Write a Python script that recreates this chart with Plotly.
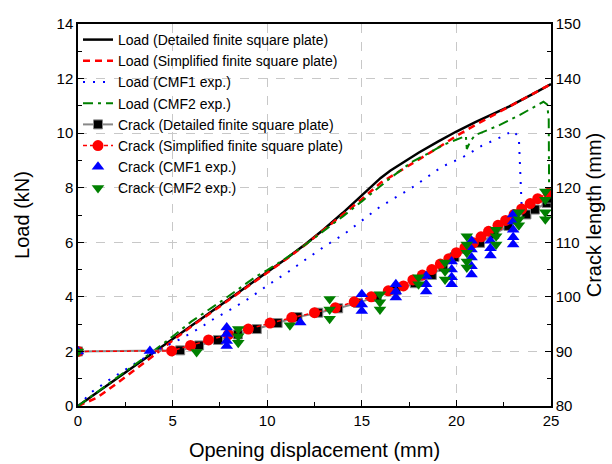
import plotly.graph_objects as go

# ---- Load curves (left axis, kN) ----
det_x = [0, 2, 4, 5, 6, 7.5, 9, 10, 11, 12, 13, 14, 15, 16, 16.5, 17, 17.7, 18, 19, 20, 21, 22, 22.8, 24, 25]
det_y = [0, 0.98, 1.96, 2.45, 2.94, 3.68, 4.41, 4.9, 5.4, 5.92, 6.48, 7.08, 7.72, 8.36, 8.62, 8.85, 9.15, 9.28, 9.68, 10.06, 10.4, 10.72, 10.98, 11.42, 11.8]

sim_x = [0, 1, 2, 3, 4, 5, 6, 7.5, 9, 10, 11, 12, 13, 14, 15, 16, 17, 18, 19, 20, 21, 22, 23, 24, 25]
sim_y = [0, 0.3, 0.8, 1.32, 1.85, 2.4, 2.92, 3.65, 4.38, 4.88, 5.38, 5.9, 6.45, 7.0, 7.58, 8.18, 8.62, 9.03, 9.45, 9.9, 10.3, 10.68, 11.05, 11.42, 11.8]

cmf1_x = [0, 0.7, 1.7, 3.0, 4.3, 5.4, 6.5, 7.0, 8.1, 9.1, 10.1, 11.1, 12.1, 13.1, 14.05, 15.06, 15.96, 17.65, 19.24, 20.3, 21.35, 22.4, 23.0, 23.3, 23.4, 23.45]
cmf1_y = [0, 0.5, 0.98, 1.55, 2.08, 2.45, 2.88, 3.12, 3.55, 3.97, 4.46, 4.91, 5.4, 5.88, 6.29, 6.83, 7.3, 8.0, 8.77, 9.1, 9.54, 9.87, 10.09, 9.85, 8.2, 7.3]

cmf2_x = [0, 2, 4, 5, 6, 7.6, 9.44, 10, 11, 12, 13, 14, 15, 15.96, 16.5, 17.65, 18.5, 19.3, 20.35, 20.5, 20.55, 20.75, 21.0, 21.4, 22.3, 23.36, 24.26, 24.6, 24.8, 24.88, 24.9]
cmf2_y = [0, 1.0, 2.02, 2.55, 3.1, 3.85, 4.76, 4.98, 5.42, 5.9, 6.42, 6.95, 7.5, 8.04, 8.35, 8.95, 9.25, 9.57, 9.87, 9.9, 9.42, 9.72, 9.93, 10.05, 10.3, 10.67, 11.04, 11.15, 11.05, 10.5, 7.9]

# ---- Crack length (right axis, mm) ----
cdet_x = [0, 5.4, 6.4, 7.4, 8.45, 9.45, 10.55, 11.6, 12.7, 13.75, 14.8, 15.8, 16.8, 17.8, 18.7, 19.3, 19.9, 20.5, 21.25, 22.0, 22.75, 23.7, 24.15, 24.77, 25.0]
cdet_y = [90, 90.2, 91.1, 92.1, 93.1, 94.1, 95.2, 96.3, 97.1, 97.9, 98.9, 100.0, 101.2, 102.5, 104.0, 105.5, 107.3, 108.8, 109.9, 111.5, 113.0, 115.1, 116.0, 117.2, 118.0]

csim_x = [0, 4.95, 5.95, 6.9, 7.95, 9.0, 10.15, 11.3, 12.5, 13.6, 14.6, 15.5, 16.4, 17.2, 17.7, 18.2, 18.7, 19.15, 19.6, 20.0, 20.45, 20.9, 21.3, 21.7, 22.2, 22.6, 23.05, 23.45, 23.9, 24.3, 24.85]
csim_y = [90, 90.1, 91.1, 92.1, 93.1, 94.1, 95.2, 96.2, 97.1, 98.0, 99.1, 100.0, 101.1, 102.0, 103.1, 104.0, 105.0, 106.0, 107.0, 108.1, 109.0, 109.9, 111.0, 112.0, 113.1, 114.0, 115.1, 116.1, 117.1, 118.0, 119.0]

c1_x = [0, 3.8, 7.86, 7.86, 7.86, 7.86, 11.75, 15.0, 15.0, 15.0, 16.8, 16.8, 16.8, 18.4, 18.4, 18.4,
        19.75, 19.75, 19.75, 19.75, 20.8, 20.8, 20.8, 20.8, 20.8, 21.8, 21.8, 21.8, 23.0, 23.0, 23.0, 23.0, 23.0]
c1_y = [90, 90.1, 94.4, 93.2, 91.9, 91.0, 95.3, 100.5, 98.6, 97.4, 102.3, 101.0, 99.9, 103.8, 102.3, 101.0,
        106.5, 105.0, 103.6, 102.3, 110.3, 108.7, 107.2, 105.6, 104.1, 110.3, 108.9, 107.6, 115.1, 113.8, 112.3, 110.9, 109.6]

c2_x = [0, 6.27, 8.47, 8.47, 8.47, 11.2, 13.3, 13.3, 13.3, 15.96, 15.96, 15.96, 18.0, 18.0, 19.4, 19.4, 19.4,
        20.55, 20.55, 20.55, 20.55, 20.55, 22.1, 22.1, 22.1, 23.3, 23.3, 23.3, 24.7, 24.7, 24.7, 24.7]
c2_y = [90, 89.9, 94.1, 92.8, 91.6, 94.8, 99.6, 97.7, 96.0, 100.5, 99.0, 97.7, 103.6, 102.3, 106.3, 104.7, 103.2,
        111.1, 109.6, 108.1, 106.5, 105.4, 112.3, 111.1, 109.6, 115.5, 114.2, 113.1, 119.3, 117.8, 115.5, 114.2]

names = [
    "Load (Detailed finite square plate)",
    "Load (Simplified finite square plate)",
    "Load (CMF1 exp.)",
    "Load (CMF2 exp.)",
    "Crack (Detailed finite square plate)",
    "Crack (Simplified finite square plate)",
    "Crack (CMF1 exp.)",
    "Crack (CMF2 exp.)",
]

fig = go.Figure()
fig.add_trace(go.Scatter(x=det_x, y=det_y, mode="lines", name=names[0],
                         line=dict(color="black", width=2.5)))
fig.add_trace(go.Scatter(x=sim_x, y=sim_y, mode="lines", name=names[1],
                         line=dict(color="#ff0000", width=2.5, dash="7px,5px")))
fig.add_trace(go.Scatter(x=cmf1_x, y=cmf1_y, mode="lines", name=names[2],
                         line=dict(color="#0000ff", width=2, dash="2px,8px")))
fig.add_trace(go.Scatter(x=cmf2_x, y=cmf2_y, mode="lines", name=names[3],
                         line=dict(color="#008000", width=2, dash="10px,5px,3px,5px")))
fig.add_trace(go.Scatter(x=cdet_x, y=cdet_y, mode="lines+markers", name=names[4], yaxis="y2",
                         line=dict(color="#888888", width=2),
                         marker=dict(symbol="square", size=9, color="black",
                                     line=dict(color="#888888", width=1))))
fig.add_trace(go.Scatter(x=csim_x, y=csim_y, mode="lines+markers", name=names[5], yaxis="y2",
                         line=dict(color="#ff0000", width=1.5, dash="4px,3px"),
                         marker=dict(symbol="circle", size=11, color="#ff0000")))
fig.add_trace(go.Scatter(x=c1_x, y=c1_y, mode="markers", name=names[6], yaxis="y2",
                         marker=dict(symbol="triangle-up", size=11, color="#0000ff")))
fig.add_trace(go.Scatter(x=c2_x, y=c2_y, mode="markers", name=names[7], yaxis="y2",
                         marker=dict(symbol="triangle-down", size=11, color="#008000")))

font = dict(family="Arial, Liberation Sans, sans-serif", color="black")
axis_common = dict(
    showline=True, linecolor="black", linewidth=1.5,
    ticks="inside", ticklen=6, tickwidth=1.2, tickcolor="black",
    tickfont=dict(size=15, **font), zeroline=False, automargin=False,
)

fig.update_layout(
    width=612, height=464,
    margin=dict(l=78, r=61, t=24, b=58),
    paper_bgcolor="white", plot_bgcolor="white",
    font=dict(size=14, **font),
    showlegend=True,
    legend=dict(x=0.0, y=1.0, xanchor="left", yanchor="top",
                bgcolor="rgba(255,255,255,0)", borderwidth=0,
                font=dict(size=14, **font), tracegroupgap=0,
                itemwidth=30),
    xaxis=dict(range=[0, 25], dtick=5, mirror=True,
               showgrid=True, gridcolor="#c8c8c8", griddash="dash", gridwidth=1,
               minor=dict(dtick=2.5, ticks="inside", ticklen=4, tickcolor="black", showgrid=False),
               title=dict(text="Opening displacement (mm)", font=dict(size=20, **font), standoff=15),
               **axis_common),
    yaxis=dict(range=[0, 14], dtick=2,
               showgrid=True, gridcolor="#c8c8c8", griddash="dash", gridwidth=1,
               minor=dict(dtick=1, ticks="inside", ticklen=4, tickcolor="black", showgrid=False),
               title=dict(text="Load (kN)", font=dict(size=20, **font), standoff=22),
               **axis_common),
    yaxis2=dict(range=[80, 150], dtick=10, overlaying="y", side="right",
                showgrid=False,
                minor=dict(dtick=5, ticks="inside", ticklen=4, tickcolor="black", showgrid=False),
                title=dict(text="Crack length (mm)", font=dict(size=20, **font), standoff=7),
                **axis_common),
)

fig.write_html("out.html")
